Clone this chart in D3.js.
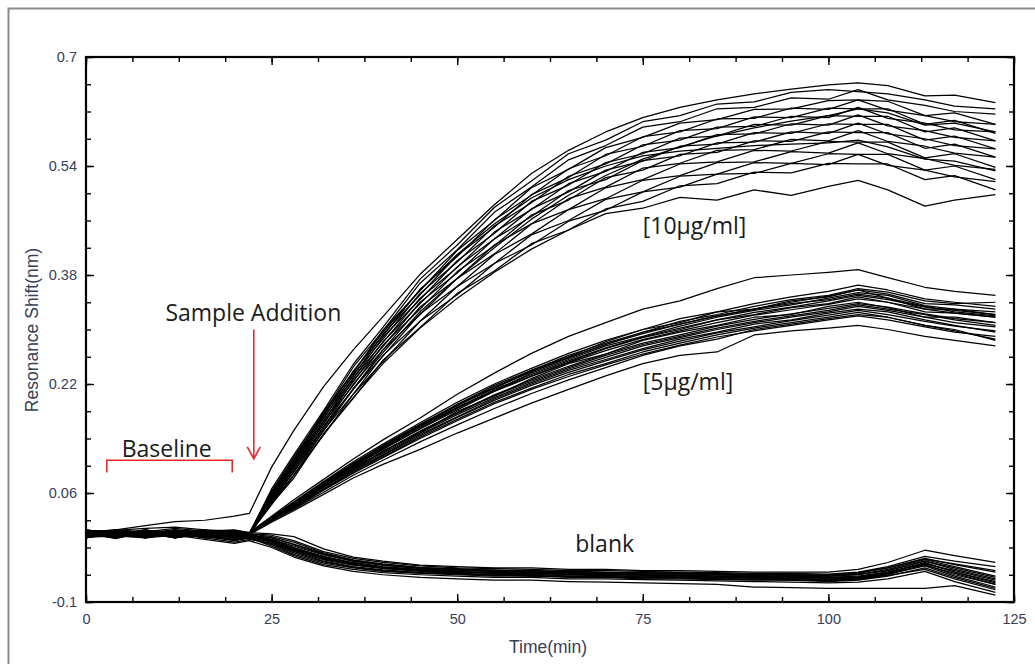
<!DOCTYPE html>
<html>
<head>
<meta charset="utf-8">
<script src="https://cdn.jsdelivr.net/npm/d3@7"></script>
<style>
  html, body { margin: 0; padding: 0; background: #fff; }
  svg { display: block; }
</style>
</head>
<body>
<svg id="chart" width="1035" height="664"></svg>
<script>
// ---------------- data ----------------
const xTicks = [0, 25, 50, 75, 100, 125];
const yTicks = [-0.1, 0.06, 0.22, 0.38, 0.54, 0.7];

// shared time grid (min)
const T = [0,4,8,12,16,20,22,25,28,32,36,40,45,50,55,60,65,70,75,80,85,90,95,100,104,108,113,117,122.5];

// [10 µg/ml] sensorgrams (nm)
const conc10 = [
  [0.003,0.006,0.012,0.018,0.02,0.026,0.03, 0.098,0.152,0.216,0.27,0.319,0.381,0.432,0.483,0.529,0.563,0.59,0.611,0.626,0.637,0.646,0.653,0.659,0.662,0.658,0.643,0.644,0.633],
  [0.004,-0.004,0.006,-0.002,0.005,0.001,0.0, 0.066,0.116,0.181,0.249,0.303,0.374,0.424,0.479,0.518,0.558,0.578,0.605,0.614,0.631,0.634,0.648,0.652,0.649,0.646,0.637,0.628,0.624],
  [-0.003,0.003,-0.006,0.004,-0.002,0.003,0.001, 0.062,0.113,0.177,0.245,0.298,0.368,0.417,0.472,0.509,0.549,0.57,0.597,0.605,0.624,0.626,0.64,0.638,0.652,0.637,0.629,0.62,0.616],
  [0.005,0.0,0.004,-0.005,0.003,-0.002,0.0, 0.063,0.108,0.179,0.236,0.299,0.357,0.416,0.46,0.508,0.535,0.567,0.582,0.603,0.608,0.623,0.624,0.636,0.637,0.635,0.614,0.618,0.601],
  [-0.006,0.005,-0.002,0.006,-0.004,0.004,0.0, 0.06,0.109,0.173,0.239,0.291,0.359,0.407,0.461,0.497,0.536,0.555,0.583,0.59,0.609,0.61,0.625,0.623,0.637,0.622,0.614,0.605,0.601],
  [0.002,-0.007,0.003,0.0,0.006,-0.003,0.0, 0.059,0.104,0.175,0.232,0.293,0.351,0.409,0.45,0.498,0.523,0.557,0.569,0.592,0.595,0.612,0.611,0.625,0.624,0.624,0.601,0.607,0.588],
  [-0.004,0.002,-0.005,0.003,-0.006,0.002,0.0, 0.058,0.106,0.169,0.234,0.286,0.353,0.399,0.452,0.486,0.525,0.543,0.571,0.578,0.597,0.598,0.613,0.611,0.626,0.61,0.603,0.593,0.59],
  [0.006,-0.003,0.002,-0.006,0.002,-0.004,-0.001, 0.058,0.101,0.171,0.228,0.289,0.344,0.401,0.441,0.488,0.512,0.545,0.558,0.581,0.584,0.601,0.6,0.614,0.613,0.613,0.59,0.596,0.577],
  [-0.002,0.004,-0.003,0.002,-0.003,0.0,-0.001, 0.055,0.103,0.165,0.229,0.281,0.346,0.391,0.443,0.476,0.514,0.532,0.56,0.567,0.586,0.587,0.602,0.6,0.615,0.599,0.592,0.582,0.577],
  [0.001,-0.006,0.005,-0.002,0.004,-0.005,0.0, 0.055,0.099,0.166,0.224,0.282,0.338,0.392,0.433,0.477,0.502,0.534,0.547,0.569,0.572,0.589,0.588,0.602,0.601,0.601,0.578,0.584,0.565],
  [0.004,0.001,-0.004,0.005,-0.001,0.002,0.0, 0.053,0.099,0.161,0.225,0.275,0.34,0.383,0.433,0.466,0.504,0.52,0.548,0.555,0.574,0.575,0.59,0.588,0.603,0.587,0.58,0.57,0.565],
  [-0.005,0.003,0.0,-0.004,0.005,-0.002,0.0, 0.054,0.095,0.163,0.218,0.277,0.33,0.385,0.423,0.468,0.49,0.523,0.534,0.557,0.56,0.577,0.576,0.59,0.589,0.589,0.566,0.572,0.553],
  [0.0,-0.005,0.003,0.001,-0.006,0.001,0.0, 0.05,0.096,0.157,0.22,0.27,0.333,0.375,0.424,0.455,0.492,0.509,0.537,0.544,0.563,0.564,0.579,0.577,0.592,0.576,0.569,0.559,0.553],
  [0.003,-0.002,-0.005,0.002,0.0,-0.003,0.0, 0.051,0.091,0.158,0.212,0.27,0.322,0.375,0.411,0.455,0.476,0.508,0.52,0.543,0.546,0.563,0.562,0.576,0.575,0.575,0.552,0.558,0.538],
  [0.002,0.005,-0.001,0.003,0.001,0.004,0.002, 0.047,0.091,0.151,0.213,0.261,0.323,0.363,0.41,0.44,0.476,0.492,0.519,0.526,0.545,0.546,0.561,0.559,0.574,0.558,0.551,0.541,0.535],
  [-0.001,-0.004,0.004,-0.003,0.004,-0.001,0.0, 0.047,0.086,0.152,0.205,0.262,0.312,0.363,0.397,0.439,0.46,0.491,0.502,0.525,0.528,0.545,0.544,0.558,0.557,0.557,0.534,0.54,0.52],
  [0.005,0.002,-0.002,0.004,-0.003,0.001,0.0, 0.043,0.087,0.145,0.205,0.253,0.312,0.351,0.397,0.424,0.459,0.475,0.502,0.509,0.528,0.529,0.544,0.542,0.557,0.541,0.534,0.524,0.517],
  [-0.003,0.0,0.005,-0.005,0.002,0.003,0.0, 0.044,0.082,0.147,0.199,0.255,0.303,0.353,0.386,0.426,0.446,0.477,0.488,0.511,0.514,0.531,0.53,0.544,0.543,0.543,0.52,0.526,0.505],
  [0.003,-0.002,-0.005,0.002,0.0,-0.003,0.0, 0.045,0.086,0.146,0.2,0.25,0.302,0.346,0.384,0.418,0.446,0.47,0.478,0.494,0.49,0.505,0.497,0.51,0.519,0.505,0.481,0.49,0.498],
  [-0.004,0.004,0.002,-0.003,0.003,-0.002,0.0, 0.049,0.092,0.155,0.213,0.266,0.326,0.375,0.42,0.462,0.497,0.526,0.55,0.568,0.584,0.596,0.606,0.614,0.624,0.618,0.6,0.603,0.59],
  [0.006,-0.001,0.001,0.004,-0.004,0.003,0.001, 0.062,0.11,0.177,0.238,0.296,0.358,0.41,0.455,0.493,0.52,0.54,0.555,0.562,0.566,0.57,0.572,0.574,0.578,0.568,0.55,0.547,0.533]
];

// [5 µg/ml] sensorgrams (nm)
const conc5 = [
  [0.002,0.006,0.003,0.008,0.004,0.006,0.002, 0.026,0.05,0.08,0.11,0.138,0.17,0.205,0.236,0.265,0.29,0.31,0.33,0.342,0.36,0.376,0.38,0.384,0.388,0.376,0.362,0.356,0.35],
  [-0.004,0.002,-0.005,0.003,-0.002,0.004,0.0, 0.025,0.047,0.077,0.106,0.132,0.163,0.193,0.22,0.243,0.265,0.284,0.3,0.316,0.326,0.338,0.348,0.356,0.365,0.358,0.345,0.34,0.334],
  [0.003,-0.003,0.004,-0.004,0.003,-0.001,0.0, 0.024,0.046,0.075,0.104,0.129,0.16,0.189,0.216,0.238,0.259,0.278,0.294,0.308,0.32,0.33,0.34,0.349,0.358,0.352,0.338,0.336,0.33],
  [-0.002,0.005,-0.001,0.002,-0.005,0.002,0.0, 0.023,0.044,0.073,0.101,0.126,0.157,0.185,0.212,0.234,0.254,0.273,0.289,0.302,0.314,0.325,0.333,0.342,0.35,0.344,0.333,0.328,0.322],
  [0.005,-0.001,0.002,-0.006,0.002,-0.003,0.0, 0.022,0.043,0.071,0.099,0.124,0.154,0.182,0.209,0.231,0.251,0.269,0.285,0.298,0.31,0.321,0.329,0.337,0.345,0.34,0.33,0.324,0.318],
  [-0.005,0.003,-0.003,0.004,-0.001,0.001,0.0, 0.022,0.042,0.07,0.097,0.121,0.151,0.178,0.204,0.226,0.246,0.264,0.28,0.292,0.305,0.315,0.323,0.331,0.338,0.333,0.323,0.316,0.31],
  [0.001,-0.005,0.005,-0.002,0.004,-0.004,0.0, 0.021,0.04,0.068,0.094,0.118,0.148,0.175,0.2,0.222,0.242,0.259,0.276,0.288,0.3,0.31,0.318,0.326,0.334,0.328,0.318,0.31,0.304],
  [-0.003,0.001,-0.006,0.005,-0.003,0.002,0.0, 0.02,0.039,0.066,0.092,0.115,0.144,0.171,0.196,0.218,0.237,0.254,0.27,0.283,0.295,0.304,0.313,0.321,0.328,0.322,0.312,0.305,0.298],
  [0.004,0.004,-0.002,0.0,0.005,-0.002,0.0, 0.019,0.037,0.064,0.089,0.112,0.14,0.166,0.191,0.212,0.231,0.248,0.264,0.277,0.289,0.298,0.306,0.314,0.32,0.314,0.304,0.296,0.29],
  [-0.001,-0.006,0.002,-0.003,0.001,-0.005,-0.001, 0.017,0.034,0.058,0.082,0.102,0.124,0.148,0.17,0.192,0.212,0.232,0.25,0.262,0.267,0.292,0.298,0.302,0.306,0.3,0.29,0.284,0.276],
  [0.002,0.0,0.006,-0.005,-0.002,0.003,0.0, 0.023,0.045,0.074,0.1,0.127,0.158,0.186,0.21,0.236,0.256,0.276,0.29,0.305,0.318,0.328,0.336,0.346,0.354,0.35,0.335,0.33,0.326],
  [-0.006,0.002,0.001,0.003,-0.004,0.0,0.0, 0.021,0.041,0.069,0.096,0.12,0.15,0.177,0.203,0.224,0.244,0.262,0.278,0.29,0.302,0.312,0.32,0.328,0.336,0.33,0.322,0.314,0.306],
  [0.003,-0.002,-0.004,0.006,0.0,-0.002,0.0, 0.02,0.038,0.065,0.09,0.113,0.142,0.168,0.193,0.214,0.234,0.25,0.267,0.28,0.292,0.302,0.31,0.318,0.325,0.318,0.306,0.3,0.284],
  [-0.002,0.006,-0.003,-0.001,0.003,0.005,0.001, 0.024,0.046,0.076,0.103,0.13,0.161,0.19,0.218,0.24,0.262,0.28,0.296,0.312,0.322,0.334,0.344,0.35,0.36,0.355,0.342,0.338,0.34],
  [0.0,0.004,-0.004,0.002,0.006,0.001,0.0, 0.024,0.045,0.072,0.1,0.128,0.158,0.19,0.214,0.24,0.26,0.282,0.3,0.31,0.326,0.33,0.342,0.348,0.358,0.346,0.33,0.33,0.322],
  [0.004,-0.002,0.001,-0.006,0.003,-0.004,0.0, 0.021,0.041,0.07,0.094,0.122,0.148,0.18,0.202,0.228,0.25,0.264,0.284,0.296,0.306,0.318,0.322,0.334,0.34,0.332,0.318,0.318,0.31],
  [-0.004,0.003,0.002,0.004,-0.005,0.003,0.0, 0.022,0.043,0.072,0.098,0.125,0.155,0.184,0.21,0.232,0.252,0.272,0.288,0.3,0.314,0.322,0.332,0.338,0.348,0.34,0.326,0.324,0.318],
  [0.001,-0.004,0.006,-0.001,-0.003,0.001,0.0, 0.02,0.039,0.066,0.092,0.116,0.146,0.172,0.198,0.22,0.24,0.256,0.272,0.286,0.296,0.308,0.314,0.324,0.33,0.326,0.314,0.306,0.296],
  [0.006,0.001,-0.003,0.003,0.001,-0.002,0.0, 0.023,0.044,0.074,0.102,0.13,0.16,0.188,0.214,0.238,0.258,0.278,0.296,0.308,0.32,0.33,0.338,0.344,0.352,0.346,0.334,0.326,0.32],
  [-0.003,-0.001,0.003,-0.002,0.002,0.004,0.001, 0.019,0.036,0.061,0.086,0.108,0.135,0.16,0.184,0.206,0.226,0.244,0.262,0.276,0.286,0.3,0.308,0.316,0.322,0.318,0.306,0.298,0.286]
];

// blank sensorgrams (nm)
const blank = [
  [0.003,0.005,0.008,0.01,0.006,0.004,0.002, 0.0,-0.004,-0.022,-0.034,-0.04,-0.046,-0.048,-0.05,-0.05,-0.052,-0.052,-0.054,-0.054,-0.055,-0.056,-0.056,-0.056,-0.052,-0.042,-0.024,-0.032,-0.042],
  [-0.002,0.004,0.002,0.006,0.003,0.0,0.0, -0.002,-0.01,-0.026,-0.036,-0.042,-0.047,-0.05,-0.051,-0.052,-0.054,-0.054,-0.055,-0.056,-0.057,-0.058,-0.058,-0.059,-0.056,-0.048,-0.033,-0.04,-0.048],
  [0.004,-0.004,0.002,-0.003,-0.002,-0.008,-0.005, -0.012,-0.024,-0.036,-0.044,-0.05,-0.053,-0.055,-0.058,-0.057,-0.06,-0.058,-0.06,-0.061,-0.06,-0.062,-0.063,-0.062,-0.06,-0.054,-0.04,-0.052,-0.066],
  [-0.004,0.002,-0.003,0.001,-0.006,-0.012,-0.008, -0.014,-0.026,-0.04,-0.048,-0.053,-0.057,-0.058,-0.06,-0.062,-0.062,-0.063,-0.064,-0.064,-0.066,-0.066,-0.068,-0.068,-0.066,-0.06,-0.045,-0.06,-0.074],
  [0.001,-0.006,0.003,-0.005,0.002,-0.006,-0.004, -0.008,-0.02,-0.033,-0.042,-0.048,-0.052,-0.054,-0.055,-0.057,-0.057,-0.059,-0.06,-0.06,-0.062,-0.063,-0.063,-0.064,-0.062,-0.056,-0.043,-0.056,-0.07],
  [-0.003,0.003,-0.006,0.004,-0.004,-0.01,-0.006, -0.016,-0.03,-0.043,-0.05,-0.055,-0.058,-0.06,-0.062,-0.061,-0.064,-0.064,-0.066,-0.066,-0.067,-0.068,-0.068,-0.07,-0.068,-0.062,-0.05,-0.064,-0.08],
  [0.005,0.0,0.004,-0.002,0.001,-0.004,-0.002, -0.006,-0.016,-0.03,-0.04,-0.046,-0.05,-0.053,-0.054,-0.056,-0.056,-0.058,-0.058,-0.059,-0.06,-0.061,-0.062,-0.062,-0.06,-0.052,-0.038,-0.048,-0.062],
  [-0.005,-0.003,-0.006,-0.002,-0.008,-0.014,-0.01, -0.02,-0.034,-0.047,-0.055,-0.06,-0.064,-0.066,-0.068,-0.068,-0.07,-0.071,-0.072,-0.073,-0.074,-0.078,-0.079,-0.08,-0.08,-0.08,-0.08,-0.076,-0.09],
  [0.0,0.005,-0.001,0.003,-0.001,-0.003,-0.002, -0.01,-0.022,-0.035,-0.044,-0.05,-0.054,-0.057,-0.058,-0.06,-0.06,-0.062,-0.062,-0.063,-0.064,-0.065,-0.066,-0.066,-0.065,-0.058,-0.046,-0.058,-0.074],
  [0.002,-0.002,0.005,0.002,0.004,-0.002,0.0, -0.004,-0.012,-0.028,-0.038,-0.044,-0.049,-0.052,-0.053,-0.054,-0.055,-0.056,-0.057,-0.058,-0.058,-0.059,-0.06,-0.06,-0.057,-0.05,-0.036,-0.045,-0.056],
  [-0.006,0.001,-0.002,-0.004,-0.003,-0.009,-0.006, -0.018,-0.032,-0.045,-0.052,-0.057,-0.06,-0.062,-0.064,-0.064,-0.066,-0.066,-0.067,-0.068,-0.069,-0.07,-0.071,-0.072,-0.071,-0.066,-0.055,-0.07,-0.086],
  [0.003,-0.005,0.001,-0.001,0.002,-0.005,-0.003, -0.01,-0.021,-0.034,-0.043,-0.049,-0.053,-0.056,-0.056,-0.058,-0.058,-0.06,-0.06,-0.061,-0.062,-0.063,-0.064,-0.064,-0.063,-0.056,-0.044,-0.054,-0.068],
  [0.002,0.001,-0.004,0.004,-0.002,-0.006,-0.003, -0.012,-0.025,-0.038,-0.046,-0.051,-0.055,-0.058,-0.06,-0.059,-0.062,-0.061,-0.063,-0.064,-0.065,-0.064,-0.066,-0.067,-0.066,-0.059,-0.047,-0.062,-0.078],
  [-0.003,0.004,0.003,-0.001,0.002,-0.004,-0.002, -0.008,-0.018,-0.031,-0.04,-0.046,-0.051,-0.053,-0.055,-0.054,-0.057,-0.057,-0.058,-0.058,-0.06,-0.06,-0.061,-0.061,-0.059,-0.054,-0.04,-0.05,-0.064],
  [0.004,-0.002,-0.002,0.002,-0.004,-0.008,-0.006, -0.015,-0.028,-0.041,-0.049,-0.054,-0.057,-0.059,-0.061,-0.062,-0.063,-0.063,-0.065,-0.065,-0.066,-0.067,-0.067,-0.069,-0.067,-0.061,-0.052,-0.066,-0.082],
  [-0.001,0.003,-0.005,0.005,0.0,-0.003,-0.001, -0.006,-0.015,-0.029,-0.039,-0.045,-0.05,-0.051,-0.054,-0.055,-0.055,-0.057,-0.058,-0.057,-0.059,-0.06,-0.06,-0.061,-0.058,-0.05,-0.037,-0.044,-0.054],
  [0.0,-0.004,0.004,-0.003,0.003,-0.007,-0.004, -0.011,-0.023,-0.037,-0.045,-0.05,-0.054,-0.056,-0.057,-0.058,-0.059,-0.06,-0.061,-0.062,-0.063,-0.063,-0.065,-0.065,-0.064,-0.057,-0.042,-0.056,-0.072]
];

const annotations = [
  { text: "Sample Addition", t: 10.7, v: 0.312 },
  { text: "Baseline", t: 4.8, v: 0.113 },
  { text: "[10µg/ml]", t: 75.0, v: 0.44 },
  { text: "[5µg/ml]", t: 75.0, v: 0.211 },
  { text: "blank", t: 65.9, v: -0.027 }
];

// ---------------- drawing ----------------
const svg = d3.select("#chart");
const x = d3.scaleLinear().domain([0, 125]).range([86, 1014]);
const y = d3.scaleLinear().domain([-0.1, 0.7]).range([602, 57]);

// outer frame
svg.append("rect").attr("x", 8.5).attr("y", 8.5).attr("width", 1100).attr("height", 700)
  .attr("fill", "none").attr("stroke", "#8c8c8c").attr("stroke-width", 2);

// sensorgram lines
const line = d3.line().x((d, i) => x(T[i])).y(d => y(d));
const g = svg.append("g").attr("fill", "none").attr("stroke", "#000")
  .attr("stroke-width", 1.25).attr("stroke-linejoin", "round");
[conc10, conc5, blank].forEach(group => {
  group.forEach(arr => g.append("path").attr("d", line(arr)));
});

// axes
const tickColor = "#000";
const labelColor = "#36405a";
const fmt = d => String(+d.toFixed(2));
const minorX = d3.range(0, 125.01, 6.25);
const minorY = d3.range(-0.1, 0.7001, 0.04);

function styleAxis(sel) {
  sel.select(".domain").remove();
  sel.selectAll(".tick line").attr("stroke", tickColor).attr("stroke-width", 1.4);
  sel.selectAll("text").attr("fill", labelColor)
    .style("font-family", "'Liberation Sans', Arial, sans-serif").style("font-size", "14.5px");
}

// minor ticks (all 4 sides)
svg.append("g").attr("transform", "translate(0,602)")
  .call(d3.axisBottom(x).tickValues(minorX).tickSize(-5).tickFormat("")).call(styleAxis);
svg.append("g").attr("transform", "translate(0,57)")
  .call(d3.axisTop(x).tickValues(minorX).tickSize(-5).tickFormat("")).call(styleAxis);
svg.append("g").attr("transform", "translate(86,0)")
  .call(d3.axisLeft(y).tickValues(minorY).tickSize(-5).tickFormat("")).call(styleAxis);
svg.append("g").attr("transform", "translate(1014,0)")
  .call(d3.axisRight(y).tickValues(minorY).tickSize(-5).tickFormat("")).call(styleAxis);

// major ticks with labels
svg.append("g").attr("transform", "translate(0,602)")
  .call(d3.axisBottom(x).tickValues(xTicks).tickSizeInner(-8).tickSizeOuter(0).tickPadding(12).tickFormat(fmt))
  .call(styleAxis);
svg.append("g").attr("transform", "translate(0,57)")
  .call(d3.axisTop(x).tickValues(xTicks).tickSizeInner(-8).tickSizeOuter(0).tickFormat(""))
  .call(styleAxis);
svg.append("g").attr("transform", "translate(86,0)")
  .call(d3.axisLeft(y).tickValues(yTicks).tickSizeInner(-8).tickSizeOuter(0).tickPadding(9).tickFormat(fmt))
  .call(styleAxis);
svg.append("g").attr("transform", "translate(1014,0)")
  .call(d3.axisRight(y).tickValues(yTicks).tickSizeInner(-8).tickSizeOuter(0).tickFormat(""))
  .call(styleAxis);

// plot frame
svg.append("rect").attr("x", 86).attr("y", 57).attr("width", 928).attr("height", 545)
  .attr("fill", "none").attr("stroke", "#000").attr("stroke-width", 2.2);

// axis titles
svg.append("text").attr("x", 548).attr("y", 653).attr("text-anchor", "middle")
  .attr("fill", labelColor).style("font-family", "'Liberation Sans', Arial, sans-serif")
  .style("font-size", "17.5px").text("Time(min)");
svg.append("text").attr("transform", "translate(38,330) rotate(-90)").attr("text-anchor", "middle")
  .attr("fill", labelColor).style("font-family", "'Liberation Sans', Arial, sans-serif")
  .style("font-size", "17.5px").text("Resonance Shift(nm)");

// annotations
svg.selectAll("text.ann").data(annotations).enter().append("text").attr("class", "ann")
  .attr("x", d => x(d.t)).attr("y", d => y(d.v))
  .attr("fill", "#1a1a1a").style("font-family", "'Open Sans', sans-serif").style("font-size", "23px")
  .text(d => d.text);

// red baseline bracket
const red = "#e8282b";
const bx0 = x(2.8), bx1 = x(19.7), by = y(0.108), by2 = y(0.09);
svg.append("path").attr("d", `M${bx0},${by2}V${by}H${bx1}V${by2}`)
  .attr("fill", "none").attr("stroke", red).attr("stroke-width", 1.6);

// red arrow (sample addition)
const ax = x(22.6), ay0 = y(0.3), ay1 = y(0.11);
svg.append("line").attr("x1", ax).attr("x2", ax).attr("y1", ay0).attr("y2", ay1)
  .attr("stroke", red).attr("stroke-width", 1.6);
svg.append("path").attr("d", `M${ax - 6.5},${ay1 - 12}L${ax},${ay1}L${ax + 6.5},${ay1 - 12}`)
  .attr("fill", "none").attr("stroke", red).attr("stroke-width", 1.6);
</script>
</body>
</html>
